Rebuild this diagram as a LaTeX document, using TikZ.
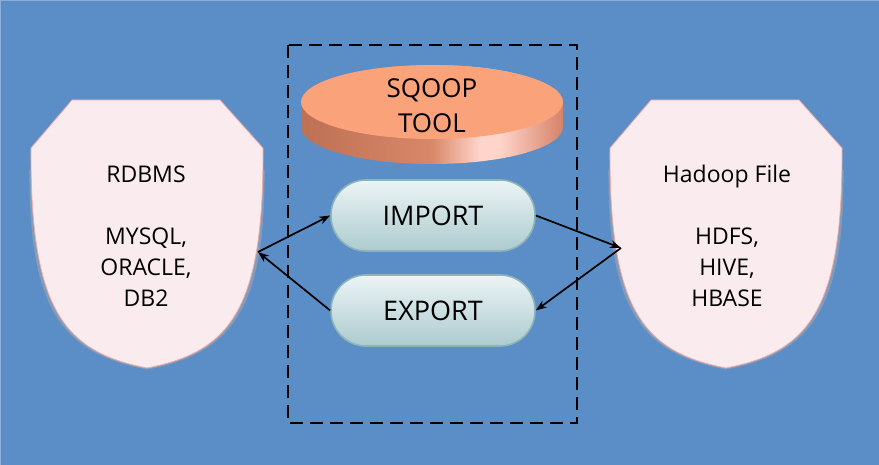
\documentclass[tikz,border=0pt]{standalone}
\usepackage{fontspec}
\setmainfont{Open Sans}
\usetikzlibrary{arrows.meta}
\definecolor{bgblue}{RGB}{91,142,199}
\definecolor{shieldfill}{RGB}{250,236,238}
\definecolor{shieldline}{RGB}{232,170,170}
\definecolor{shieldshadow}{RGB}{175,170,172}
\definecolor{disktop}{RGB}{250,162,122}
\definecolor{diskA}{RGB}{190,112,84}
\definecolor{diskB}{RGB}{216,136,104}
\definecolor{diskC}{RGB}{255,212,202}
\definecolor{diskD}{RGB}{214,130,104}
\definecolor{pilltop}{RGB}{236,244,245}
\definecolor{pillbot}{RGB}{172,203,207}
\definecolor{pillline}{RGB}{140,180,186}
\pgfdeclarehorizontalshading{diskside}{100bp}{color(0bp)=(diskA); color(25bp)=(diskA); color(50bp)=(diskB); color(59bp)=(diskC); color(63bp)=(diskC); color(75bp)=(diskD); color(100bp)=(diskD)}
\tikzset{
  shieldbox/.style={fill=shieldfill, draw=shieldline, line width=0.8pt},
  shieldshade/.style={draw=shieldshadow, line width=3pt, opacity=0.5},
  shieldtext/.style={align=center, inner sep=0pt, font=\fontsize{23}{31}\selectfont},
  pill/.style={draw=pillline, line width=1.6pt, top color=pilltop, bottom color=pillbot,
    rounded corners=35pt, minimum width=204pt, minimum height=71pt, inner sep=0pt,
    font=\fontsize{27}{32}\selectfont},
  conn/.style={black, line width=1.7pt, -{Stealth[length=11pt,width=8pt]}},
  frame/.style={black, line width=2.1pt, dash pattern=on 13pt off 7pt},
}
\begin{document}
\begin{tikzpicture}[x=1pt,y=-1pt]
\useasboundingbox (0,0) rectangle (879,465);
\fill[bgblue] (0,0) rectangle (879,465);
\draw[white!30!bgblue, line width=1pt] (0.5,464.5) -- (0.5,0.5) -- (878.5,0.5);
% shields
\foreach \dx in {0,579}{
  \begin{scope}[xshift=\dx pt]
    \draw[shieldshade] (263,170) .. controls (264,310) and (230,352) .. (147,368)
      .. controls (64,352) and (30,310) .. (31,170);
    \path[shieldbox] (72,100) -- (220,100) -- (263,148)
      .. controls (264,310) and (230,352) .. (147,368)
      .. controls (64,352) and (30,310) .. (31,148) -- cycle;
  \end{scope}
}
\node[shieldtext] (rdbms) at (146,236) {RDBMS\\[31pt]MYSQL,\\ORACLE,\\DB2};
\node[shieldtext] (hadoop) at (727,236) {Hadoop File\\[31pt]HDFS,\\HIVE,\\HBASE};
\coordinate (L) at (258,252);
\coordinate (R) at (621,248);
% dashed frame
\draw[frame] (288,45) rectangle (577,423);
% disk
\shade[shading=diskside] (301,102) -- (301,127) arc[start angle=180, end angle=360, x radius=131, y radius=-37]
  -- (563,102) arc[start angle=0, end angle=-180, x radius=131, y radius=37] -- cycle;
\fill[disktop] (432,102) ellipse[x radius=131, y radius=37];
\node[shieldtext, font=\fontsize{26}{35}\selectfont] (sqoop) at (432,106) {SQOOP\\TOOL};
% pills
\node[pill] (imp) at (433,215.5) {IMPORT};
\node[pill] (exp) at (433,310.5) {EXPORT};
% connectors
\draw[conn] (L) -- (imp.west);
\draw[conn] (exp.west) -- (L);
\draw[conn] (imp.east) -- (R);
\draw[conn] (R) -- (exp.east);
\end{tikzpicture}
\end{document}
